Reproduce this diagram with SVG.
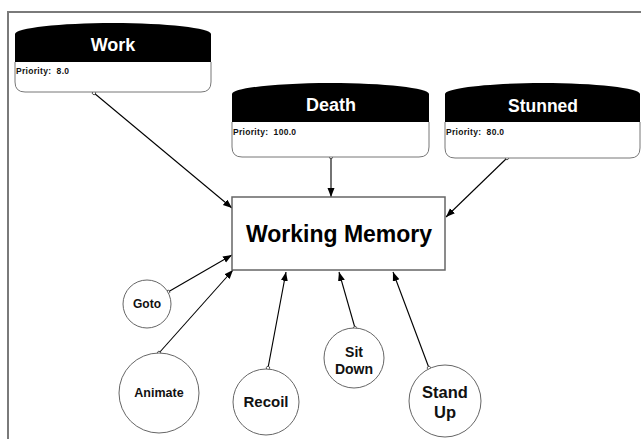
<svg xmlns="http://www.w3.org/2000/svg" width="641" height="439" viewBox="0 0 641 439">
  <style>
    .frame { fill: none; stroke: #7a7a7a; stroke-width: 2; }
    .head { fill: #000; }
    .body { fill: #fff; stroke: #777; stroke-width: 1; }
    .title { font-family: "Liberation Sans", Arial, sans-serif; font-weight: bold; fill: #fff; text-anchor: middle; }
    .prio { font-family: "Liberation Sans", Arial, sans-serif; font-weight: bold; font-size: 8.5px; letter-spacing: 0.3px; fill: #111; white-space: pre; }
    .mem { fill: #fff; stroke: #666; stroke-width: 1.5; }
    .memtext { font-family: "Liberation Sans", Arial, sans-serif; font-weight: bold; font-size: 23px; fill: #000; text-anchor: middle; }
    .act { fill: #fff; stroke: #666; stroke-width: 1; }
    .label { font-family: "Liberation Sans", Arial, sans-serif; font-weight: bold; fill: #111; text-anchor: middle; }
    .link { fill: none; stroke: #000; stroke-width: 1.1; marker-start: url(#dot); marker-end: url(#arrow); }
  </style>
  <defs>
    <marker id="arrow" markerUnits="userSpaceOnUse" markerWidth="10" markerHeight="8" refX="9" refY="3.5" orient="auto">
      <path d="M0,0 L9,3.5 L0,7 Z" fill="#000"/>
    </marker>
    <marker id="dot" markerUnits="userSpaceOnUse" markerWidth="6" markerHeight="6" refX="3" refY="3" orient="auto">
      <circle cx="3" cy="3" r="1.7" fill="#fff" stroke="#333" stroke-width="0.8"/>
    </marker>
  </defs>

  <rect width="641" height="439" fill="#fff"/>
  <!-- outer frame: only top and left edges fall inside the canvas -->
  <path class="frame" d="M8,441 L8,12 L643,12"/>

  <g id="connectors">
    <line class="link" x1="94" y1="93" x2="232" y2="208"/>
    <line class="link" x1="331" y1="157" x2="331" y2="197"/>
    <line class="link" x1="507" y1="158" x2="446" y2="217"/>
    <line class="link" x1="168" y1="292" x2="232" y2="255"/>
    <line class="link" x1="159" y1="353" x2="233" y2="270"/>
    <line class="link" x1="268" y1="368" x2="286" y2="272"/>
    <line class="link" x1="355" y1="328" x2="339" y2="272"/>
    <line class="link" x1="429" y1="368" x2="393" y2="272"/>
  </g>

  <g id="work">
    <path class="body" d="M15,62 L15,82 Q15,92 25,92 L201,92 Q211,92 211,82 L211,62"/>
    <path class="head" d="M15,62 L15,34 C15,28 60,23 113,23 C166,23 211,28 211,34 L211,62 Z"/>
    <text class="title" x="113" y="51" font-size="18">Work</text>
    <text class="prio" x="16" y="74" xml:space="preserve">Priority:  8.0</text>
  </g>

  <g id="death">
    <path class="body" d="M232,122 L232,147 Q232,157 242,157 L419,157 Q429,157 429,147 L429,122"/>
    <path class="head" d="M232,122 L232,94 C232,88 277,83 330.5,83 C384,83 429,88 429,94 L429,122 Z"/>
    <text class="title" x="331" y="111" font-size="18">Death</text>
    <text class="prio" x="233" y="135" xml:space="preserve">Priority:  100.0</text>
  </g>

  <g id="stunned">
    <path class="body" d="M445,122 L445,148 Q445,158 455,158 L630,158 Q640,158 640,148 L640,122"/>
    <path class="head" d="M445,122 L445,94 C445,88 490,83 542.5,83 C595,83 640,88 640,94 L640,122 Z"/>
    <text class="title" x="543" y="112" font-size="17.5">Stunned</text>
    <text class="prio" x="446" y="135" xml:space="preserve">Priority:  80.0</text>
  </g>

  <g id="working-memory">
    <rect class="mem" x="232" y="197" width="213" height="73"/>
    <text class="memtext" x="339" y="242">Working Memory</text>
  </g>

  <g id="goto">
    <circle class="act" cx="147" cy="304" r="24"/>
    <text class="label" x="147" y="308" font-size="12">Goto</text>
  </g>

  <g id="animate">
    <circle class="act" cx="159" cy="393" r="40"/>
    <text class="label" x="159" y="397" font-size="12.5">Animate</text>
  </g>

  <g id="recoil">
    <circle class="act" cx="266" cy="402" r="33"/>
    <text class="label" x="266" y="407" font-size="15">Recoil</text>
  </g>

  <g id="sit-down">
    <circle class="act" cx="354" cy="358" r="30"/>
    <text class="label" x="354" y="357" font-size="14">Sit</text>
    <text class="label" x="354" y="374" font-size="14">Down</text>
  </g>

  <g id="stand-up">
    <circle class="act" cx="445" cy="401" r="36"/>
    <text class="label" x="445" y="398" font-size="16.5">Stand</text>
    <text class="label" x="445" y="418" font-size="16.5">Up</text>
  </g>
</svg>
